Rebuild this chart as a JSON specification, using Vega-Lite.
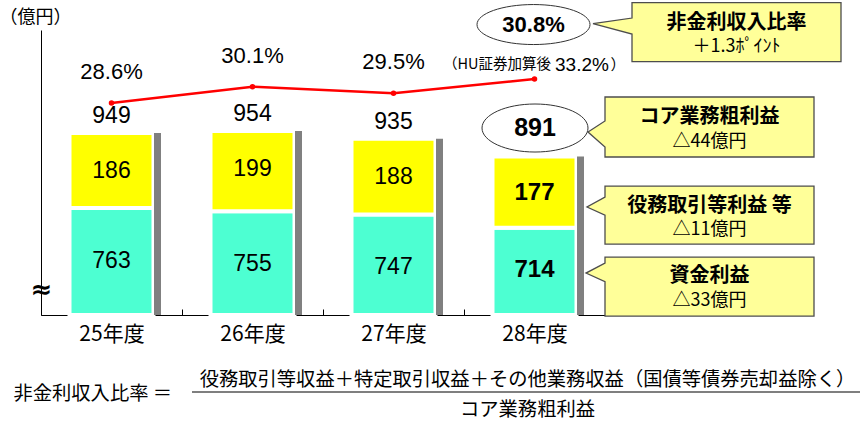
{
"$schema":"https://vega.github.io/schema/vega-lite/v6.json",
"autosize":{"type":"none"},
"padding":{"left":41,"top":30,"right":260,"bottom":108},
"width":564,"height":285,
"background":"#ffffff",
"config":{"view":{"stroke":null},"font":"Noto Sans CJK JP","text":{"color":"#000000"}},
"data":{"values":[
 {"year":"25年度","shikin":763,"ekimu":186,"total":949,"ratio":0.286},
 {"year":"26年度","shikin":755,"ekimu":199,"total":954,"ratio":0.301},
 {"year":"27年度","shikin":747,"ekimu":188,"total":935,"ratio":0.295},
 {"year":"28年度","shikin":714,"ekimu":177,"total":891,"ratio":0.308,"ratio_hu":0.332}
]},
"encoding":{"x":{"field":"year","type":"nominal","sort":null,"scale":{"paddingInner":0,"paddingOuter":0},
 "axis":{"title":["役務取引等収益＋特定取引収益＋その他業務収益（国債等債券売却益除く）","コア業務粗利益"],
  "titleFont":"Noto Sans CJK JP","titleFontSize":19.3,"titleFontWeight":"normal","titleColor":"#000000","titleX":486,"titleY":55,"titleAlign":"center","titleBaseline":"top","titleLineHeight":30,
  "labelAngle":0,"labelFont":"Noto Sans CJK JP","labelFontSize":21,"labelColor":"#000000","labelPadding":14,
  "domainColor":"#000000","domainWidth":1,"tickColor":"#000000","tickSize":-6,"tickBand":"extent","grid":false}}},
"layer":[
 {"layer":[
  {"mark":{"type":"bar","width":84,"fill":"#4DFFD2","stroke":"#ffffff","strokeWidth":4},
   "encoding":{"y":{"field":"shikin","type":"quantitative","scale":{"domain":[497.5,1204.7],"clamp":true,"zero":false,"nice":false},
    "axis":{"orient":"left","title":"（億円）","titleAngle":0,"titleX":-6,"titleY":-13,"titleAlign":"center","titleBaseline":"middle","titleFont":"Noto Sans CJK JP","titleFontSize":18,"titleFontWeight":"normal","titleColor":"#000000",
     "grid":false,"ticks":false,"tickSize":0,"values":[560],"labelExpr":"'≈'","labelAlign":"center","labelBaseline":"middle","labelPadding":0,"labelFontSize":26,"labelFont":"DejaVu Sans","labelFontWeight":"bold","labelColor":"#000000","domainColor":"#000000","domainWidth":1}}}},
  {"mark":{"type":"bar","width":84,"fill":"#FFFF00","stroke":"#ffffff","strokeWidth":4},
   "encoding":{"y":{"field":"shikin","type":"quantitative"},"y2":{"field":"total"}}},
  {"mark":{"type":"bar","width":7,"xOffset":46,"fill":"#808080"},
   "encoding":{"y":{"field":"total","type":"quantitative"}}},
  {"transform":[{"filter":{"not":{"field":"year","equal":"28年度"}}}],
   "mark":{"type":"text","dy":38,"font":"Liberation Sans","fontSize":23,"baseline":"middle"},
   "encoding":{"y":{"field":"total","type":"quantitative"},"text":{"field":"ekimu","type":"quantitative"}}},
  {"transform":[{"filter":{"not":{"field":"year","equal":"28年度"}}}],
   "mark":{"type":"text","dy":53,"font":"Liberation Sans","fontSize":23,"baseline":"middle"},
   "encoding":{"y":{"field":"shikin","type":"quantitative"},"text":{"field":"shikin","type":"quantitative"}}},
  {"transform":[{"filter":{"not":{"field":"year","equal":"28年度"}}}],
   "mark":{"type":"text","dy":-17,"font":"Liberation Sans","fontSize":23,"baseline":"middle"},
   "encoding":{"y":{"field":"total","type":"quantitative"},"text":{"field":"total","type":"quantitative"}}},
  {"transform":[{"filter":{"field":"year","equal":"28年度"}}],
   "mark":{"type":"text","dy":36.6,"font":"Liberation Sans","fontWeight":"bold","fontSize":24,"baseline":"middle"},
   "encoding":{"y":{"field":"total","type":"quantitative"},"text":{"field":"ekimu","type":"quantitative"}}},
  {"transform":[{"filter":{"field":"year","equal":"28年度"}}],
   "mark":{"type":"text","dy":42.5,"font":"Liberation Sans","fontWeight":"bold","fontSize":24,"baseline":"middle"},
   "encoding":{"y":{"field":"shikin","type":"quantitative"},"text":{"field":"shikin","type":"quantitative"}}},
  {"transform":[{"filter":{"field":"year","equal":"28年度"}}],
   "mark":{"type":"point","shape":"M1,0C1,0.25 0.5523,0.453 0,0.453C-0.5523,0.453 -1,0.25 -1,0C-1,-0.25 -0.5523,-0.453 0,-0.453C0.5523,-0.453 1,-0.25 1,0Z","size":11236,"filled":true,"fill":"#ffffff","stroke":"#333333","strokeWidth":1,"opacity":1,"yOffset":-28.4,"xOffset":0.5},
   "encoding":{"y":{"field":"total","type":"quantitative"}}},
  {"transform":[{"filter":{"field":"year","equal":"28年度"}}],
   "mark":{"type":"text","dy":-28.4,"dx":0.5,"font":"Liberation Sans","fontWeight":"bold","fontSize":25,"baseline":"middle"},
   "encoding":{"y":{"field":"total","type":"quantitative"},"text":{"field":"total","type":"quantitative"}}},
  {"transform":[{"filter":{"field":"year","equal":"28年度"}}],
   "mark":{"type":"point","shape":"M-1.045,-0.3L1.045,-0.3L1.045,0.3L-1.045,0.3L-1.045,0.2L-1.215,0.05L-1.045,-0.06Z","size":40000,"filled":true,"fill":"#FFFF99","stroke":"#4D4D4D","strokeWidth":1.3,"opacity":1,"xOffset":175,"yOffset":-29.4},
   "encoding":{"y":{"field":"total","type":"quantitative"}}},
  {"transform":[{"filter":{"field":"year","equal":"28年度"}}],
   "mark":{"type":"text","text":"コア業務粗利益","font":"Noto Sans CJK JP","fontSize":20,"fontWeight":"bold","dx":175,"dy":-39.4,"baseline":"middle"},
   "encoding":{"y":{"field":"total","type":"quantitative"}}},
  {"transform":[{"filter":{"field":"year","equal":"28年度"}}],
   "mark":{"type":"text","text":"△44億円","font":"Noto Sans CJK JP","fontSize":18,"dx":175,"dy":-14.9,"baseline":"middle"},
   "encoding":{"y":{"field":"total","type":"quantitative"}}},
  {"transform":[{"filter":{"field":"year","equal":"28年度"}}],
   "mark":{"type":"point","shape":"M-1.045,-0.29L1.045,-0.29L1.045,0.29L-1.045,0.29L-1.045,0L-1.225,-0.08L-1.045,-0.18Z","size":40000,"filled":true,"fill":"#FFFF99","stroke":"#4D4D4D","strokeWidth":1.3,"opacity":1,"xOffset":175,"yOffset":-12.7},
   "encoding":{"y":{"field":"shikin","type":"quantitative"}}},
  {"transform":[{"filter":{"field":"year","equal":"28年度"}}],
   "mark":{"type":"text","text":"役務取引等利益 等","font":"Noto Sans CJK JP","fontSize":20,"fontWeight":"bold","dx":175,"dy":-22.2,"baseline":"middle"},
   "encoding":{"y":{"field":"shikin","type":"quantitative"}}},
  {"transform":[{"filter":{"field":"year","equal":"28年度"}}],
   "mark":{"type":"text","text":"△11億円","font":"Noto Sans CJK JP","fontSize":18,"dx":175,"dy":1.8,"baseline":"middle"},
   "encoding":{"y":{"field":"shikin","type":"quantitative"}}},
  {"transform":[{"filter":{"field":"year","equal":"28年度"}}],
   "mark":{"type":"point","shape":"M-1.045,-0.295L1.045,-0.295L1.045,0.295L-1.045,0.295L-1.045,-0.05L-1.235,-0.135L-1.045,-0.235Z","size":40000,"filled":true,"fill":"#FFFF99","stroke":"#4D4D4D","strokeWidth":1.3,"opacity":1,"xOffset":175,"yOffset":58.8},
   "encoding":{"y":{"field":"shikin","type":"quantitative"}}},
  {"transform":[{"filter":{"field":"year","equal":"28年度"}}],
   "mark":{"type":"text","text":"資金利益","font":"Noto Sans CJK JP","fontSize":20,"fontWeight":"bold","dx":175,"dy":48.3,"baseline":"middle"},
   "encoding":{"y":{"field":"shikin","type":"quantitative"}}},
  {"transform":[{"filter":{"field":"year","equal":"28年度"}}],
   "mark":{"type":"text","text":"△33億円","font":"Noto Sans CJK JP","fontSize":18,"dx":175,"dy":72.8,"baseline":"middle"},
   "encoding":{"y":{"field":"shikin","type":"quantitative"}}}
 ]},
 {"layer":[
  {"mark":{"type":"line","color":"#FF0000","strokeWidth":2.5},
   "encoding":{"y":{"field":"ratio","type":"quantitative","scale":{"domain":[0.0915,0.353],"zero":false,"nice":false},
    "axis":{"orient":"right","domain":false,"ticks":false,"labels":false,"grid":false,"title":"非金利収入比率 ＝","titleAngle":0,"titleX":-592,"titleY":363,"titleAlign":"left","titleBaseline":"middle","titleFont":"Noto Sans CJK JP","titleFontSize":19.3,"titleFontWeight":"normal","titleColor":"#000000"}}}},
  {"mark":{"type":"point","filled":true,"fill":"#FF0000","size":30,"opacity":1},
   "encoding":{"y":{"field":"ratio","type":"quantitative"}}},
  {"transform":[{"filter":{"not":{"field":"year","equal":"28年度"}}}],
   "mark":{"type":"text","dy":-31,"font":"Liberation Sans","fontSize":22,"baseline":"middle"},
   "encoding":{"y":{"field":"ratio","type":"quantitative"},"text":{"field":"ratio","type":"quantitative","format":".1%"}}},
  {"transform":[{"filter":{"field":"year","equal":"28年度"}}],
   "mark":{"type":"point","shape":"M1,0C1,0.1955 0.5523,0.354 0,0.354C-0.5523,0.354 -1,0.1955 -1,0C-1,-0.1955 -0.5523,-0.354 0,-0.354C0.5523,-0.354 1,-0.1955 1,0Z","size":12769,"filled":true,"fill":"#ffffff","stroke":"#333333","strokeWidth":1,"opacity":1,"yOffset":-54.5,"xOffset":-1},
   "encoding":{"y":{"field":"ratio","type":"quantitative"}}},
  {"transform":[{"filter":{"field":"year","equal":"28年度"}}],
   "mark":{"type":"text","dy":-54.5,"dx":-1,"font":"Liberation Sans","fontWeight":"bold","fontSize":22,"baseline":"middle"},
   "encoding":{"y":{"field":"ratio","type":"quantitative"},"text":{"field":"ratio","type":"quantitative","format":".1%"}}},
  {"transform":[{"filter":{"field":"year","equal":"28年度"}}],
   "mark":{"type":"text","text":"（HU証券加算後","align":"right","dx":16.5,"dy":-14.5,"font":"Noto Sans CJK JP","fontSize":14.5,"baseline":"middle"},
   "encoding":{"y":{"field":"ratio","type":"quantitative"}}},
  {"transform":[{"filter":{"field":"year","equal":"28年度"}}],
   "mark":{"type":"text","align":"left","dx":20.5,"dy":-14.5,"font":"Liberation Sans","fontSize":19,"baseline":"middle"},
   "encoding":{"y":{"field":"ratio","type":"quantitative"},"text":{"field":"ratio_hu","type":"quantitative","format":".1%"}}},
  {"transform":[{"filter":{"field":"year","equal":"28年度"}}],
   "mark":{"type":"text","text":"）","align":"left","dx":76,"dy":-14.5,"font":"Noto Sans CJK JP","fontSize":15,"baseline":"middle"},
   "encoding":{"y":{"field":"ratio","type":"quantitative"}}},
  {"transform":[{"filter":{"field":"year","equal":"28年度"}}],
   "mark":{"type":"point","shape":"M-1.045,-0.295L1.045,-0.295L1.045,0.295L-1.045,0.295L-1.045,0.02L-1.435,-0.085L-1.045,-0.14Z","size":40000,"filled":true,"fill":"#FFFF99","stroke":"#4D4D4D","strokeWidth":1.3,"opacity":1,"xOffset":202,"yOffset":-47},
   "encoding":{"y":{"field":"ratio","type":"quantitative"}}},
  {"transform":[{"filter":{"field":"year","equal":"28年度"}}],
   "mark":{"type":"text","text":"非金利収入比率","font":"Noto Sans CJK JP","fontSize":20,"fontWeight":"bold","dx":202,"dy":-56,"baseline":"middle"},
   "encoding":{"y":{"field":"ratio","type":"quantitative"}}},
  {"transform":[{"filter":{"field":"year","equal":"28年度"}}],
   "mark":{"type":"text","text":"＋1.3ﾎﾟｲﾝﾄ","font":"Noto Sans CJK JP","fontSize":18,"dx":202,"dy":-32,"baseline":"middle"},
   "encoding":{"y":{"field":"ratio","type":"quantitative"}}},
  {"transform":[{"filter":{"field":"year","equal":"28年度"}}],
   "mark":{"type":"rule","color":"#000000","strokeWidth":1.2,"xOffset":-60.5,"x2Offset":325.5,"yOffset":-22.7},
   "encoding":{"x":{"datum":"26年度"},"x2":{"datum":"28年度"},"y":{"datum":0}}}
 ]}
],
"resolve":{"scale":{"y":"independent"}}
}
